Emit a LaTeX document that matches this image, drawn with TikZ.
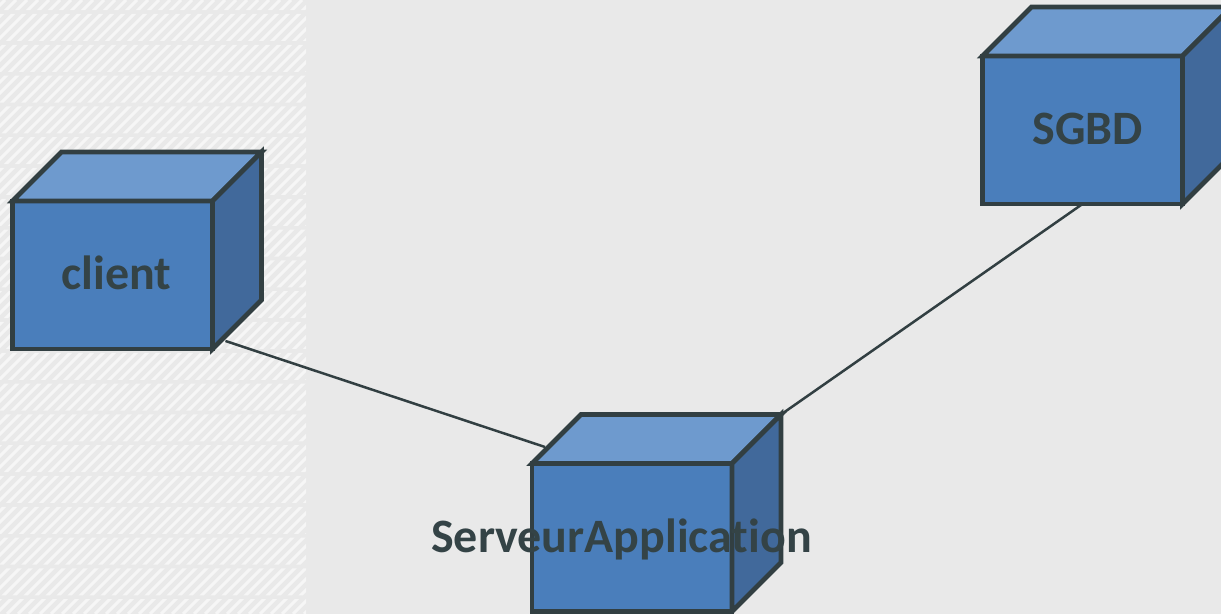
\documentclass[tikz,border=0pt]{standalone}
\usepackage{fontspec}
\setmainfont{Carlito}[Ligatures=NoCommon]
\usetikzlibrary{calc}
\definecolor{bg}{HTML}{E9E9E9}
\definecolor{hatch}{HTML}{F6F6F6}
\definecolor{edge}{HTML}{323F42}
\definecolor{front}{HTML}{4A7EBB}
\definecolor{topface}{HTML}{6E9ACE}
\definecolor{sideface}{HTML}{41699B}
\definecolor{ink}{HTML}{344346}
\begin{document}
\begin{tikzpicture}[x=0.02cm, y=-0.02cm,
    box/.style={rectangle, draw=edge, fill=front, line width=0.095cm, outer sep=0pt, inner sep=0pt,
        minimum width=4cm, minimum height=2.96cm},
    face/.style={draw=edge, line width=0.095cm},
    boxlabel/.style={anchor=base, inner sep=0pt, text=ink, font=\fontsize{27.3}{31}\selectfont\bfseries},
    hatchline/.style={draw=hatch, line width=0.06cm},
    link/.style={draw=edge, line width=0.05cm}]
    \def\PW{1221}
    \def\PH{614}
    \def\dep{49}
    \useasboundingbox (0,0) rectangle (\PW,\PH);
    \fill[bg] (0,0) rectangle (\PW,\PH);
    % striped band on the left
    \begin{scope}
    \clip \foreach \t in {0,...,20} {(0,{-16.8+30.8*\t}) rectangle (306,{10.2+30.8*\t})};
    \foreach \s in {-620,-609,...,310}
        \draw[hatchline] (\s,\PH) -- ++(\PH,-\PH);
    \end{scope}
    % the three nodes
    \foreach \n/\x/\y in {client/112.5/275, srv/632/537.5, sgbd/1082.5/130}
    {
    \node[box] (\n) at (\x,\y) {};
    \filldraw[face, fill=topface] (\n.north west) -- ++(\dep,-\dep) -- ++(200,0) -- (\n.north east) -- cycle;
    \filldraw[face, fill=sideface] (\n.north east) -- ++(\dep,-\dep) -- ++(0,148) -- (\n.south east) -- cycle;
    }
    \node[boxlabel] (client-name) at (116.5,289.5) {client};
    \node[boxlabel] (sgbd-name) at (1087.5,144.3) {SGBD};
    \node[boxlabel] (srv-name) at (621.5,553) {ServeurApplication};
    % links
    \coordinate (client-port) at ($(client.south east)+(13,-8)$);
    \coordinate (srv-port) at ($(srv.north west)+(13,-16.5)$);
    \coordinate (srv-corner) at ($(srv.north east)+(\dep,-\dep)$);
    \draw[link] (client-port) -- (srv-port);
    \draw[link] (srv-corner) -- (sgbd.south);
\end{tikzpicture}
\end{document}
